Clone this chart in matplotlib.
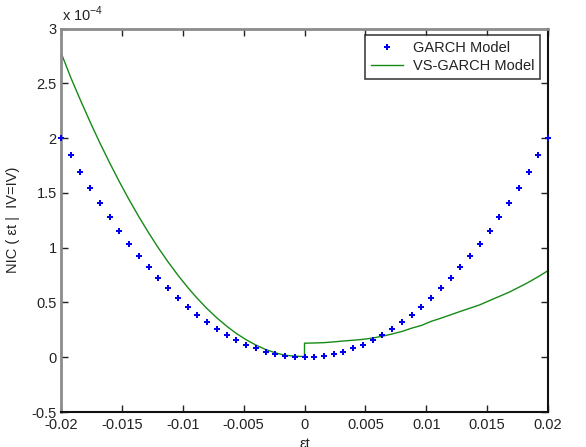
import numpy as np
import matplotlib
matplotlib.use("Agg")
import matplotlib.pyplot as plt

plt.rcParams['font.family'] = ['Liberation Sans', 'DejaVu Sans']

# GARCH news impact curve (values in units of 1e-4), x from -0.02 to 0.02
garch_x = np.linspace(-0.02, 0.02, 51)
garch_half = [2.0, 1.8432, 1.6928, 1.5488, 1.4112, 1.28, 1.1552, 1.0368, 0.9248,
              0.8192, 0.72, 0.6272, 0.5408, 0.4608, 0.3872, 0.32, 0.2592, 0.2048,
              0.1568, 0.1152, 0.08, 0.0512, 0.0288, 0.0128, 0.0032, 0.0]
garch_y = garch_half + garch_half[-2::-1]

# VS-GARCH news impact curve: left branch (x<=0) and right branch (x>=0)
vs_left_x = np.linspace(-0.02, 0.0, 26)
vs_left_y = [2.78, 2.553, 2.345, 2.145, 1.954, 1.773, 1.600, 1.436, 1.281, 1.135,
             0.997, 0.869, 0.749, 0.638, 0.536, 0.443, 0.359, 0.284, 0.217, 0.160,
             0.111, 0.071, 0.040, 0.018, 0.010, 0.006]
vs_right_x = np.linspace(0.0, 0.02, 26)
vs_right_y = [0.128, 0.130, 0.133, 0.140, 0.148, 0.155, 0.163, 0.175, 0.192, 0.212,
              0.235, 0.265, 0.290, 0.327, 0.356, 0.387, 0.418, 0.448, 0.478, 0.517,
              0.555, 0.593, 0.638, 0.684, 0.735, 0.790]

xticks = [-0.02, -0.015, -0.01, -0.005, 0, 0.005, 0.01, 0.015, 0.02]
xticklabels = ['-0.02', '-0.015', '-0.01', '-0.005', '0', '0.005', '0.01', '0.015', '0.02']
yticks = [-0.5, 0, 0.5, 1, 1.5, 2, 2.5, 3]
yticklabels = ['-0.5', '0', '0.5', '1', '1.5', '2', '2.5', '3']

fig = plt.figure(figsize=(5.86, 4.47), dpi=100)
ax = fig.add_axes([61/586, 35/447, (548-61)/586, (412-28.5)/447])

vs_x = np.concatenate([vs_left_x, vs_right_x])
vs_y = np.array(vs_left_y + vs_right_y)

ax.plot(garch_x, garch_y, linestyle='none', marker='P', markersize=5,
        color='#0000ee', markeredgewidth=0, label='GARCH Model', clip_on=False, zorder=3)
ax.plot(vs_x, vs_y, color='#168a16', lw=1.0, label='VS-GARCH Model', zorder=2)

ax.set_xlim(-0.02, 0.02)
ax.set_ylim(-0.5, 3)
ax.set_xticks(xticks)
ax.set_xticklabels(xticklabels)
ax.set_yticks(yticks)
ax.set_yticklabels(yticklabels)

ax.tick_params(direction='in', top=True, right=True, length=5, width=1,
               labelsize=10.5, colors='#222222', pad=3)
ax.tick_params(axis='x', pad=4)

for s in ['left', 'top']:
    ax.spines[s].set_color('#8c8c8c')
    ax.spines[s].set_linewidth(2)
for s in ['bottom', 'right']:
    ax.spines[s].set_color('#111111')
    ax.spines[s].set_linewidth(1.5)

ax.set_xlabel('εt', fontsize=10.5, labelpad=4, color='#222222')
ax.set_ylabel('NIC ( εt |  IV=IV)', fontsize=10.5, labelpad=8, color='#222222')

fig.text(62/586, 1 - 14/447, r'x 10$^{\mathregular{-4}}$', fontsize=10.5,
         ha='left', va='center', color='#222222')

leg = ax.legend(loc='upper right', bbox_to_anchor=(0.984, 0.983), fontsize=10.5,
                frameon=True, fancybox=False, edgecolor='#111111', borderpad=0.4,
                labelspacing=0.3, handlelength=2.2, handletextpad=0.7, borderaxespad=0)
leg.get_frame().set_linewidth(1.2)
for t in leg.get_texts():
    t.set_color('#222222')

fig.savefig('out.png', dpi=100)
